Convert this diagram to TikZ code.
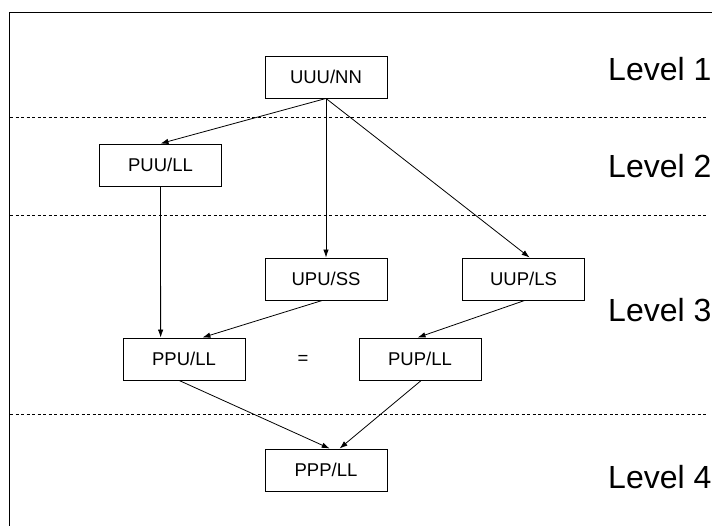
\documentclass[tikz,border=0pt]{standalone}
\usepackage{fontspec}
\setmainfont{Liberation Sans}
\usetikzlibrary{arrows.meta,calc}
\tikzset{
  stagebox/.style={draw, line width=0.9pt, minimum width=122pt, minimum height=42pt, inner sep=0pt, font=\fontsize{18.5}{20}\selectfont},
  levellabel/.style={anchor=base west, inner sep=0pt, font=\fontsize{32}{34}\selectfont},
  levelsep/.style={line width=0.8pt, dash pattern=on 3pt off 2.5pt},
  flow/.style={line width=0.8pt, -{Latex[length=8pt,width=5.5pt]}},
  frameline/.style={line width=1pt}
}
\begin{document}
\begin{tikzpicture}[x=1pt,y=-1pt]
\useasboundingbox (0,0) rectangle (712,525);
\clip (0,0) rectangle (712,525);
\fill[white] (0,0) rectangle (712,525);
\draw[frameline] (9.5,540) -- (9.5,12.5) -- (730,12.5);
\draw[levelsep] (10,117) -- (708,117);
\draw[levelsep] (10,215) -- (708,215);
\draw[levelsep] (10,414) -- (708,414);

\node[stagebox] (uuu) at (326,77) {UUU/NN};
\node[stagebox] (puu) at (160.5,165) {PUU/LL};
\node[stagebox] (upu) at (326,279) {UPU/SS};
\node[stagebox] (uup) at (523.5,279) {UUP/LS};
\node[stagebox] (ppu) at (184,359) {PPU/LL};
\node[stagebox] (pup) at (420,359) {PUP/LL};
\node[stagebox] (ppp) at (326,470) {PPP/LL};
\node[font=\fontsize{18.5}{20}\selectfont, inner sep=0pt] (eq) at (303,360) {=};

\node[levellabel] (l1) at (608,80.7) {Level 1};
\node[levellabel] (l2) at (608,177) {Level 2};
\node[levellabel] (l3) at (608,321) {Level 3};
\node[levellabel] (l4) at (608,488) {Level 4};

\draw[flow] (uuu.south) -- (puu.north);
\draw[flow] (uuu.south) -- (upu.north);
\draw[flow] (uuu.south) -- ($(uup.north west)!0.55!(uup.north east)$);
\draw[flow] (puu.south) -- ($(ppu.north west)!0.31!(ppu.north east)$);
\draw[flow] ($(upu.south west)!0.47!(upu.south east)$) -- ($(ppu.north west)!0.65!(ppu.north east)$);
\draw[flow] ($(uup.south west)!0.51!(uup.south east)$) -- ($(pup.north west)!0.48!(pup.north east)$);
\draw[flow] ($(ppu.south west)!0.46!(ppu.south east)$) -- ($(ppp.north west)!0.53!(ppp.north east)$);
\draw[flow] ($(pup.south west)!0.51!(pup.south east)$) -- ($(ppp.north west)!0.61!(ppp.north east)$);
\end{tikzpicture}
\end{document}
